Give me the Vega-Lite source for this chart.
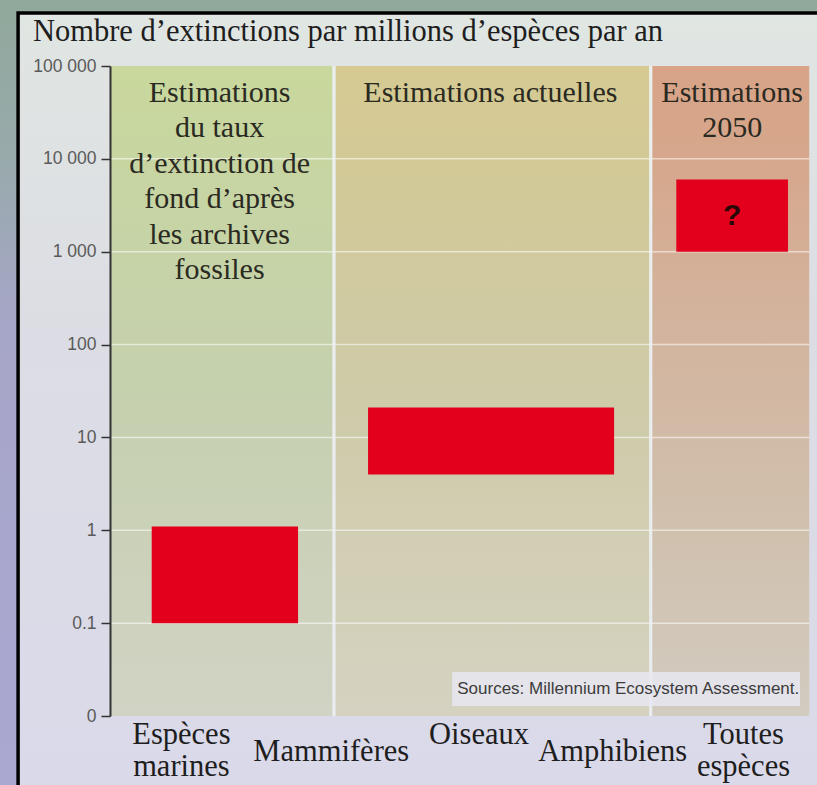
{
  "$schema": "https://vega.github.io/schema/vega-lite/v6.json",
  "width": 707,
  "height": 650,
  "autosize": {"type": "none"},
  "padding": {"left": 110, "top": 66, "right": 0, "bottom": 69},
  "background": "#dfe4e2",
  "config": {
    "view": {"stroke": null},
    "axisX": {"domain": true, "domainColor": "#333333", "domainWidth": 2, "labels": false, "ticks": false, "grid": false, "title": null, "zindex": 1},
    "axisY": {"zindex": 1}
  },
  "datasets": {
    "barres": [
      {"periode": "Archives fossiles", "debut": 5.9, "fin": 26.6, "min": 0.1, "max": 1.1},
      {"periode": "Estimations actuelles", "debut": 36.5, "fin": 71.3, "min": 4, "max": 21},
      {"periode": "Estimations 2050", "debut": 80.1, "fin": 95.9, "min": 1000, "max": 6000}
    ],
    "zones": [
      {"zone": "fond", "debut": 0, "fin": 31.45},
      {"zone": "actuel", "debut": 31.9, "fin": 76.25},
      {"zone": "futur", "debut": 76.7, "fin": 98.9}
    ],
    "graduations": [{"v": 0.1}, {"v": 1}, {"v": 10}, {"v": 100}, {"v": 1000}, {"v": 10000}],
    "separations": [{"s": 31.68}, {"s": 76.48}],
    "entetes": [
      {"texte": "Estimations\ndu taux\nd’extinction de\nfond d’après\nles archives\nfossiles", "x": 15.5},
      {"texte": "Estimations actuelles", "x": 53.8},
      {"texte": "Estimations\n2050", "x": 88.0}
    ],
    "categories": [
      {"label": "Espèces\nmarines", "x": 10.1, "niveau": "haut"},
      {"label": "Mammifères", "x": 31.3, "niveau": "bas"},
      {"label": "Oiseaux", "x": 52.2, "niveau": "haut"},
      {"label": "Amphibiens", "x": 71.1, "niveau": "bas"},
      {"label": "Toutes\nespèces", "x": 89.6, "niveau": "haut"}
    ]
  },
  "layer": [
    {
      "data": {"values": [{}]},
      "mark": {"type": "rect", "color": {"gradient": "linear", "x1": 0, "y1": 0, "x2": 0, "y2": 1, "stops": [
        {"offset": 0, "color": "#8fa899"}, {"offset": 0.22, "color": "#98aaab"}, {"offset": 0.42, "color": "#a6a6c8"}, {"offset": 1, "color": "#aaa7d2"}]}},
      "encoding": {
        "x": {"datum": -20, "type": "quantitative", "scale": {"domain": [0, 100], "nice": false, "zero": false}, "title": null},
        "x2": {"datum": 110},
        "y": {"datum": 0.001, "type": "quantitative", "title": null,
          "scale": {"type": "log", "domain": [0.01, 100000], "nice": false},
          "axis": {
            "values": [0.01, 0.1, 1, 10, 100, 1000, 10000, 100000],
            "labelExpr": "datum.value < 0.05 ? '0' : datum.value < 0.5 ? '0.1' : datum.value < 5 ? '1' : datum.value < 50 ? '10' : datum.value < 500 ? '100' : datum.value < 5000 ? '1 000' : datum.value < 50000 ? '10 000' : '100 000'",
            "grid": false, "domain": true, "domainColor": "#333333", "domainWidth": 2,
            "ticks": true, "tickSize": 9, "tickColor": "#333333", "tickWidth": 1.5,
            "labelFont": "Liberation Sans", "labelFontSize": 17.5, "labelColor": "#5a5a5a", "labelPadding": 5,
            "title": null, "zindex": 1
          }},
        "y2": {"datum": 1000000}
      }
    },
    {
      "data": {"values": [{}]},
      "mark": {"type": "rect", "stroke": "#000000", "strokeWidth": 3.5, "fill": {"gradient": "linear", "x1": 0, "y1": 0, "x2": 0, "y2": 1, "stops": [
        {"offset": 0, "color": "#e0e6e2"}, {"offset": 0.4, "color": "#dcdde4"}, {"offset": 1, "color": "#dad9ea"}]}},
      "encoding": {
        "x": {"datum": -13.0, "type": "quantitative"},
        "x2": {"datum": 110},
        "y": {"datum": 0.001, "type": "quantitative"},
        "y2": {"datum": 372000}
      }
    },
    {
      "data": {"name": "zones"},
      "transform": [{"filter": "datum.zone === 'fond'"}],
      "mark": {"type": "rect", "color": {"gradient": "linear", "x1": 0, "y1": 0, "x2": 0, "y2": 1, "stops": [
        {"offset": 0, "color": "#c9d89c"}, {"offset": 0.15, "color": "#c7d5a2"}, {"offset": 0.5, "color": "#c5d0ae"}, {"offset": 1, "color": "#d1d3c4"}]}},
      "encoding": {
        "x": {"field": "debut", "type": "quantitative", "title": null},
        "x2": {"field": "fin"},
        "y": {"datum": 0.01, "type": "quantitative"},
        "y2": {"datum": 100000}
      }
    },
    {
      "data": {"name": "zones"},
      "transform": [{"filter": "datum.zone === 'actuel'"}],
      "mark": {"type": "rect", "color": {"gradient": "linear", "x1": 0, "y1": 0, "x2": 0, "y2": 1, "stops": [
        {"offset": 0, "color": "#d6ca92"}, {"offset": 0.2, "color": "#d2c999"}, {"offset": 0.5, "color": "#cecba8"}, {"offset": 1, "color": "#d5d2c1"}]}},
      "encoding": {
        "x": {"field": "debut", "type": "quantitative", "title": null},
        "x2": {"field": "fin"},
        "y": {"datum": 0.01, "type": "quantitative"},
        "y2": {"datum": 100000}
      }
    },
    {
      "data": {"name": "zones"},
      "transform": [{"filter": "datum.zone === 'futur'"}],
      "mark": {"type": "rect", "color": {"gradient": "linear", "x1": 0, "y1": 0, "x2": 0, "y2": 1, "stops": [
        {"offset": 0, "color": "#d8a387"}, {"offset": 0.14, "color": "#d6a78c"}, {"offset": 0.4, "color": "#d3b49e"}, {"offset": 0.7, "color": "#d0c0ad"}, {"offset": 1, "color": "#d2cbc0"}]}},
      "encoding": {
        "x": {"field": "debut", "type": "quantitative", "title": null},
        "x2": {"field": "fin"},
        "y": {"datum": 0.01, "type": "quantitative"},
        "y2": {"datum": 100000}
      }
    },
    {
      "data": {"name": "graduations"},
      "mark": {"type": "rule", "color": "#ffffff", "strokeWidth": 1.5, "opacity": 0.55},
      "encoding": {
        "x": {"datum": 0, "type": "quantitative"},
        "x2": {"datum": 98.9},
        "y": {"field": "v", "type": "quantitative", "title": null}
      }
    },
    {
      "data": {"name": "separations"},
      "mark": {"type": "rule", "color": "#eef1ee", "strokeWidth": 3, "opacity": 0.8},
      "encoding": {
        "x": {"field": "s", "type": "quantitative", "title": null},
        "y": {"datum": 0.01, "type": "quantitative"},
        "y2": {"datum": 100000}
      }
    },
    {
      "data": {"name": "barres"},
      "mark": {"type": "rect", "color": "#e2001c"},
      "encoding": {
        "x": {"field": "debut", "type": "quantitative", "title": null},
        "x2": {"field": "fin"},
        "y": {"field": "min", "type": "quantitative", "title": null},
        "y2": {"field": "max"}
      }
    },
    {
      "data": {"values": [{"texte": "?", "x": 88.0, "y": 2450}]},
      "mark": {"type": "text", "font": "Liberation Sans", "fontSize": 30, "fontWeight": "bold", "color": "#2a0808", "align": "center", "baseline": "middle"},
      "encoding": {
        "x": {"field": "x", "type": "quantitative", "title": null},
        "y": {"field": "y", "type": "quantitative", "title": null},
        "text": {"field": "texte"}
      }
    },
    {
      "data": {"name": "entetes"},
      "mark": {"type": "text", "font": "Liberation Serif", "fontSize": 30, "color": "#2a2a22", "align": "center", "baseline": "alphabetic", "lineBreak": "\n", "lineHeight": 35.5},
      "encoding": {
        "x": {"field": "x", "type": "quantitative", "title": null},
        "y": {"datum": 41000, "type": "quantitative"},
        "text": {"field": "texte"}
      }
    },
    {
      "data": {"values": [{}]},
      "mark": {"type": "rect", "color": "#e8e8f2", "opacity": 0.85},
      "encoding": {
        "x": {"datum": 48.4, "type": "quantitative"},
        "x2": {"datum": 97.6},
        "y": {"datum": 0.0128, "type": "quantitative"},
        "y2": {"datum": 0.0298}
      }
    },
    {
      "data": {"values": [{"source": "Sources: Millennium Ecosystem Assessment."}]},
      "mark": {"type": "text", "font": "Liberation Sans", "fontSize": 17, "color": "#3c3c3c", "align": "center", "baseline": "middle"},
      "encoding": {
        "x": {"datum": 73.3, "type": "quantitative"},
        "y": {"datum": 0.0196, "type": "quantitative"},
        "text": {"field": "source"}
      }
    },
    {
      "data": {"name": "categories"},
      "transform": [{"filter": "datum.niveau === 'haut'"}],
      "mark": {"type": "text", "font": "Liberation Serif", "fontSize": 30.5, "color": "#1e1e1e", "align": "center", "baseline": "alphabetic", "lineBreak": "\n", "lineHeight": 32},
      "encoding": {
        "x": {"field": "x", "type": "quantitative", "title": null},
        "y": {"datum": 0.005, "type": "quantitative"},
        "text": {"field": "label"}
      }
    },
    {
      "data": {"name": "categories"},
      "transform": [{"filter": "datum.niveau === 'bas'"}],
      "mark": {"type": "text", "font": "Liberation Serif", "fontSize": 30.5, "color": "#1e1e1e", "align": "center", "baseline": "alphabetic"},
      "encoding": {
        "x": {"field": "x", "type": "quantitative", "title": null},
        "y": {"datum": 0.00325, "type": "quantitative"},
        "text": {"field": "label"}
      }
    },
    {
      "data": {"values": [{"titre": "Nombre d’extinctions par millions d’espèces par an"}]},
      "mark": {"type": "text", "font": "Liberation Serif", "fontSize": 30.5, "color": "#1e1e1e", "align": "left", "baseline": "alphabetic"},
      "encoding": {
        "x": {"datum": -10.9, "type": "quantitative"},
        "y": {"datum": 185800, "type": "quantitative"},
        "text": {"field": "titre"}
      }
    }
  ]
}
